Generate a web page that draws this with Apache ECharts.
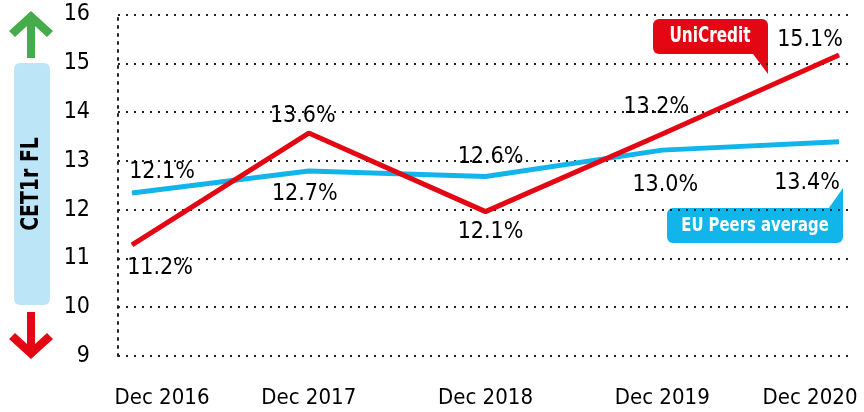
<!DOCTYPE html>
<html lang="en">
  <head>
    <meta charset="UTF-8" />
    <title>CET1r FL</title>
    <style>
      * {
        padding: 0;
        margin: 0;
      }
      #chart {
        width: 864px;
        height: 412px;
        background: #fff;
      }
    </style>
    <script src="https://cdn.jsdelivr.net/npm/echarts@6/dist/echarts.min.js"></script>
  </head>
  <body>
    <div id="chart"></div>
    <script type="text/javascript">
      // data
      const categories = ['Dec 2016', 'Dec 2017', 'Dec 2018', 'Dec 2019', 'Dec 2020']
      const uniCredit = [11.28, 13.57, 11.96, 13.55, 15.17]
      const euPeers = [12.34, 12.79, 12.68, 13.22, 13.39]
      const uniCreditLabels = ['11.2%', '13.6%', '12.1%', '13.2%', '15.1%']
      const euPeersLabels = ['12.1%', '12.7%', '12.6%', '13.0%', '13.4%']
      const yTicks = [9, 16, 1] // min, max, interval

      const FONT = "'DejaVu Sans Condensed', 'DejaVu Sans', sans-serif"
      const RED = '#e30613'
      const BLUE = '#12b5ea'

      // where each value label sits, relative to its point
      const redOffsets = [[28, 23], [-6, -17], [5, 20], [-6, -27], [-29, -15]]
      const blueOffsets = [[30, -21], [-4, 23], [5, -19], [3, 35], [-32, 41]]

      function points(values, labels, offsets) {
        return values.map((v, i) => ({
          value: v,
          label: { formatter: labels[i], offset: offsets[i] },
        }))
      }

      const chart = echarts.init(document.getElementById('chart'))

      const dots = { color: '#222', width: 2, type: [2, 6] }

      const option = {
        animation: false,
        grid: [
          { left: 118, right: 12, top: 14.5, bottom: 56, outerBoundsMode: 'none' },
          { left: 132, right: 25, top: 14.5, bottom: 56, outerBoundsMode: 'none' },
        ],
        xAxis: [
          { gridIndex: 0, type: 'value', min: 0, max: 1, show: false },
          {
            gridIndex: 1,
            type: 'category',
            boundaryGap: false,
            data: categories.map((c, i) => ({
              value: c,
              textStyle:
                i === 0
                  ? { padding: [0, 0, 0, 60] }
                  : i === categories.length - 1
                  ? { padding: [0, 58, 0, 0] }
                  : {},
            })),
            axisLine: { show: false },
            axisTick: { show: false },
            splitLine: { show: false },
            axisLabel: {
              margin: 31,
              fontSize: 22,
              fontFamily: FONT,
              color: '#000',
            },
          },
        ],
        yAxis: [
          {
            gridIndex: 0,
            type: 'value',
            min: yTicks[0],
            max: yTicks[1],
            interval: yTicks[2],
            axisLine: { show: true, lineStyle: dots },
            axisTick: { show: false },
            splitLine: { show: true, lineStyle: dots },
            axisLabel: {
              margin: 28,
              fontSize: 23,
              fontFamily: FONT,
              color: '#000',
            },
          },
          {
            gridIndex: 1,
            type: 'value',
            min: yTicks[0],
            max: yTicks[1],
            interval: yTicks[2],
            show: false,
          },
        ],
        series: [
          {
            name: 'EU Peers average',
            type: 'line',
            xAxisIndex: 1,
            yAxisIndex: 1,
            data: points(euPeers, euPeersLabels, blueOffsets),
            symbol: 'circle',
            symbolSize: 1,
            itemStyle: { color: BLUE },
            lineStyle: { color: BLUE, width: 5 },
            label: {
              show: true,
              position: 'inside',
              fontSize: 23,
              fontFamily: FONT,
              color: '#000',
            },
          },
          {
            name: 'UniCredit',
            type: 'line',
            xAxisIndex: 1,
            yAxisIndex: 1,
            data: points(uniCredit, uniCreditLabels, redOffsets),
            symbol: 'circle',
            symbolSize: 1,
            itemStyle: { color: RED },
            lineStyle: { color: RED, width: 5 },
            label: {
              show: true,
              position: 'inside',
              fontSize: 23,
              fontFamily: FONT,
              color: '#000',
            },
          },
        ],
        graphic: [
          // up arrow
          {
            type: 'polygon',
            shape: {
              points: [
                [31, 11], [53, 31], [47, 37], [35, 26], [35, 58],
                [27, 58], [27, 26], [15, 37], [9, 31],
              ],
            },
            style: { fill: '#46ab4a' },
          },
          // side bar
          {
            type: 'rect',
            shape: { x: 14, y: 63, width: 36, height: 242, r: 6 },
            style: { fill: '#bde5f8' },
          },
          {
            type: 'text',
            x: 31,
            y: 184,
            rotation: Math.PI / 2,
            scaleY: 1.2,
            style: {
              text: 'CET1r FL',
              fill: '#000',
              font: "bold 21px 'DejaVu Sans Condensed', 'DejaVu Sans', sans-serif",
              align: 'center',
              verticalAlign: 'middle',
            },
          },
          // down arrow
          {
            type: 'polygon',
            shape: {
              points: [
                [31, 359], [53, 339], [47, 333], [35, 344], [35, 312],
                [27, 312], [27, 344], [15, 333], [9, 339],
              ],
            },
            style: { fill: RED },
          },
          // UniCredit callout
          {
            type: 'rect',
            shape: { x: 653, y: 19, width: 115, height: 35, r: 6 },
            style: { fill: RED },
          },
          {
            type: 'polygon',
            shape: { points: [[750, 50], [768, 40], [768, 74]] },
            style: { fill: RED },
          },
          {
            type: 'text',
            x: 710,
            y: 37,
            scaleY: 1.2,
            style: {
              text: 'UniCredit',
              fill: '#fff',
              font: "bold 17px 'DejaVu Sans Condensed', 'DejaVu Sans', sans-serif",
              align: 'center',
              verticalAlign: 'middle',
            },
          },
          // EU Peers callout
          {
            type: 'rect',
            shape: { x: 667, y: 208, width: 176, height: 35, r: 6 },
            style: { fill: BLUE },
          },
          {
            type: 'polygon',
            shape: { points: [[826, 212], [843, 188], [843, 222]] },
            style: { fill: BLUE },
          },
          {
            type: 'text',
            x: 755,
            y: 226,
            scaleY: 1.2,
            style: {
              text: 'EU Peers average',
              fill: '#fff',
              font: "bold 16.5px 'DejaVu Sans Condensed', 'DejaVu Sans', sans-serif",
              align: 'center',
              verticalAlign: 'middle',
            },
          },
        ],
      }

      chart.setOption(option)
    </script>
  </body>
</html>
